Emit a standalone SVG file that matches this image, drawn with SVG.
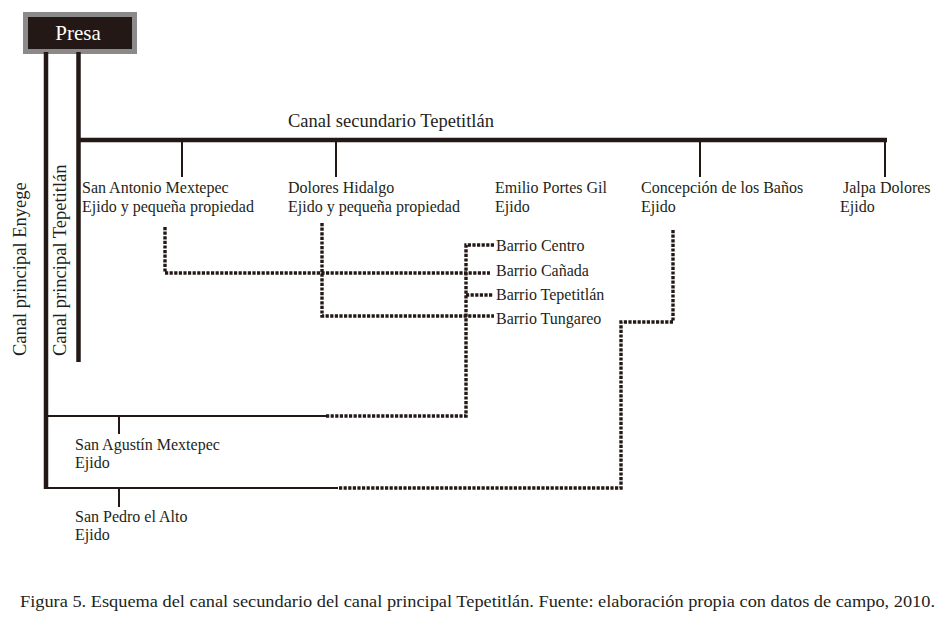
<svg xmlns="http://www.w3.org/2000/svg" width="942" height="624" viewBox="0 0 942 624">
<style>
text{font-family:"Liberation Serif","Times New Roman",serif;fill:#231f20;font-size:16px}
.t18{font-size:18.5px}
.main{stroke:#231815;stroke-width:4.5;fill:none}
.tick{stroke:#231815;stroke-width:2;fill:none}
.dot{stroke:#231815;stroke-width:3.4;fill:none;stroke-dasharray:3.2 1.4}
</style>
<rect width="942" height="624" fill="#ffffff"/>
<g id="presa">
<rect x="25.5" y="14.5" width="109" height="37" fill="#231815" stroke="#8a8a8a" stroke-width="5"/>
<text x="78" y="40" text-anchor="middle" style="fill:#ffffff;font-size:21px">Presa</text>
</g>
<g id="connectors">
<line class="main" x1="46" y1="52" x2="46" y2="489"/>
<line class="main" x1="78.5" y1="52" x2="78.5" y2="362"/>
<line class="main" x1="80" y1="140" x2="887" y2="140"/>
<line class="tick" x1="182" y1="140" x2="182" y2="177"/>
<line class="tick" x1="336" y1="140" x2="336" y2="177"/>
<line class="tick" x1="700" y1="140" x2="700" y2="177"/>
<line class="tick" x1="885" y1="140" x2="885" y2="177"/>
<line class="tick" x1="46" y1="416" x2="326" y2="416"/>
<line class="tick" x1="119" y1="416" x2="119" y2="434"/>
<line class="tick" x1="46" y1="488" x2="338" y2="488"/>
<line class="tick" x1="119" y1="488" x2="119" y2="507"/>
<polyline class="dot" points="165,227 165,273 490,273"/>
<polyline class="dot" points="322,223 322,316 494,316"/>
<polyline class="dot" points="494,245 466,245 466,416 326,416"/>
<line class="dot" x1="466" y1="295" x2="493" y2="295"/>
<polyline class="dot" points="673,230 673,322 621,322 621,488 338,488"/>
</g>
<g id="label-secundario"><text class="t18" x="288" y="127">Canal secundario Tepetitlán</text></g>
<g id="label-enyege"><text class="t18" transform="translate(26,356) rotate(-90)">Canal principal Enyege</text></g>
<g id="label-tepetitlan"><text class="t18" transform="translate(66,356) rotate(-90)">Canal principal Tepetitlán</text></g>
<g id="n-sanantonio"><text x="82" y="193">San Antonio Mextepec</text><text x="82" y="212">Ejido y pequeña propiedad</text></g>
<g id="n-dolores"><text x="288" y="193">Dolores Hidalgo</text><text x="288" y="212">Ejido y pequeña propiedad</text></g>
<g id="n-emilio"><text x="495" y="193">Emilio Portes Gil</text><text x="495" y="212">Ejido</text></g>
<g id="n-concepcion"><text x="641" y="193">Concepción de los Baños</text><text x="641" y="212">Ejido</text></g>
<g id="n-jalpa"><text x="843" y="193">Jalpa Dolores</text><text x="840" y="212">Ejido</text></g>
<g id="n-centro"><text x="496" y="251">Barrio Centro</text></g>
<g id="n-canada"><text x="496" y="276">Barrio Cañada</text></g>
<g id="n-btepetitlan"><text x="496" y="300">Barrio Tepetitlán</text></g>
<g id="n-tungareo"><text x="496" y="324">Barrio Tungareo</text></g>
<g id="n-sanagustin"><text x="75" y="450">San Agustín Mextepec</text><text x="75" y="468">Ejido</text></g>
<g id="n-sanpedro"><text x="75" y="522">San Pedro el Alto</text><text x="75" y="540">Ejido</text></g>
<g id="caption"><text x="20" y="607" textLength="915" lengthAdjust="spacingAndGlyphs">Figura 5. Esquema del canal secundario del canal principal Tepetitlán. Fuente: elaboración propia con datos de campo, 2010.</text></g>
</svg>
